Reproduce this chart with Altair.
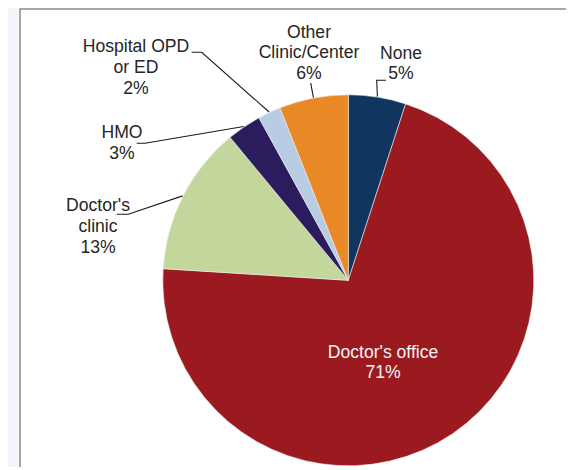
import math
import altair as alt
import pandas as pd

# ---- data ----
categories = ["None", "Doctor's office", "Doctor's clinic", "HMO",
              "Hospital OPD or ED", "Other Clinic/Center"]
values = [5, 71, 13, 3, 2, 6]
label_lines = ["None", "Doctor's office", "Doctor's\nclinic", "HMO",
               "Hospital OPD\nor ED", "Other\nClinic/Center"]
colors = ["#10355f", "#9a1a1f", "#c3d69b", "#2b1c5e", "#b8cce4", "#e98926"]

# ---- layout (page pixel coordinates) ----
W, H = 558, 459
CX, CY, R = 348.3, 280.3, 185.5
label_pos = [(401, 58.5), (383, 357.5), (98, 211), (122, 138), (136, 52), (309, 37.5)]
leader_elbows = [
    [(386, 80.3), (376.7, 80.3)],
    None,
    [(116.7, 214.3), (128.3, 214.3)],
    [(136.7, 143.3), (145, 143.3)],
    [(191.7, 52.3), (201.7, 52.3)],
    [(310.7, 83)],
]

total = sum(values)
df = pd.DataFrame({
    "idx": range(len(categories)),
    "category": categories,
    "value": values,
    "label": [f"{l}\n{v}%" for l, v in zip(label_lines, values)],
    "lx": [p[0] for p in label_pos],
    "ly": [p[1] for p in label_pos],
})

# leader lines: label-side elbows + point on slice edge at mid-angle
rows = []
cum = 0
for i, v in enumerate(values):
    mid = (cum + v / 2) / total * 2 * math.pi
    cum += v
    if leader_elbows[i] is None:
        continue
    pts = list(leader_elbows[i]) + [(CX + (R + 0.5) * math.sin(mid),
                                     CY - (R + 0.5) * math.cos(mid))]
    for k, (x, y) in enumerate(pts):
        rows.append({"category": categories[i], "k": k, "px": x, "py": y})
lead = pd.DataFrame(rows)

sx = alt.Scale(domain=[8, 8 + W], range=[0, W], nice=False, zero=False)
sy = alt.Scale(domain=[8, 8 + H], range=[0, H], nice=False, zero=False)
FONT = "Liberation Sans"
FS = 17.6

panel = alt.Chart(alt.Data(values=[{"a": 1}])).mark_rect(
    fill="white", stroke="#8c8c8c", strokeWidth=1.5, clip=True
).encode(x=alt.value(12), x2=alt.value(W + 50), y=alt.value(1), y2=alt.value(H + 50))

pie = alt.Chart(df).mark_arc(
    outerRadius=R, x=CX - 8, y=CY - 8, stroke="#eeeeee", strokeWidth=0.6
).encode(
    theta=alt.Theta("value:Q", stack=True),
    color=alt.Color("category:N", scale=alt.Scale(domain=categories, range=colors), legend=None),
    order=alt.Order("idx:Q"),
)

leaders = alt.Chart(lead).mark_line(color="#1a1a1a", strokeWidth=1.1).encode(
    x=alt.X("px:Q", scale=sx, axis=None),
    y=alt.Y("py:Q", scale=sy, axis=None),
    detail="category:N",
    order="k:Q",
)

text_out = alt.Chart(df).transform_filter(
    alt.datum.category != "Doctor's office"
).mark_text(
    font=FONT, fontSize=FS, lineBreak="\n", lineHeight=20.8,
    align="center", baseline="alphabetic", color="#262626"
).encode(
    x=alt.X("lx:Q", scale=sx, axis=None),
    y=alt.Y("ly:Q", scale=sy, axis=None),
    text="label:N",
)

text_in = alt.Chart(df).transform_filter(
    alt.datum.category == "Doctor's office"
).mark_text(
    font=FONT, fontSize=FS, lineBreak="\n", lineHeight=20.8,
    align="center", baseline="alphabetic", color="#f4f4f4"
).encode(
    x=alt.X("lx:Q", scale=sx, axis=None),
    y=alt.Y("ly:Q", scale=sy, axis=None),
    text="label:N",
)

chart = alt.layer(panel, pie, leaders, text_out, text_in).properties(
    width=W, height=H, padding=0,
    autosize=alt.AutoSizeParams(type="none"),
    background="#f2f5f9",
).configure_view(stroke=None)

chart.save("out.html", embed_options={"renderer": "svg", "actions": False})
